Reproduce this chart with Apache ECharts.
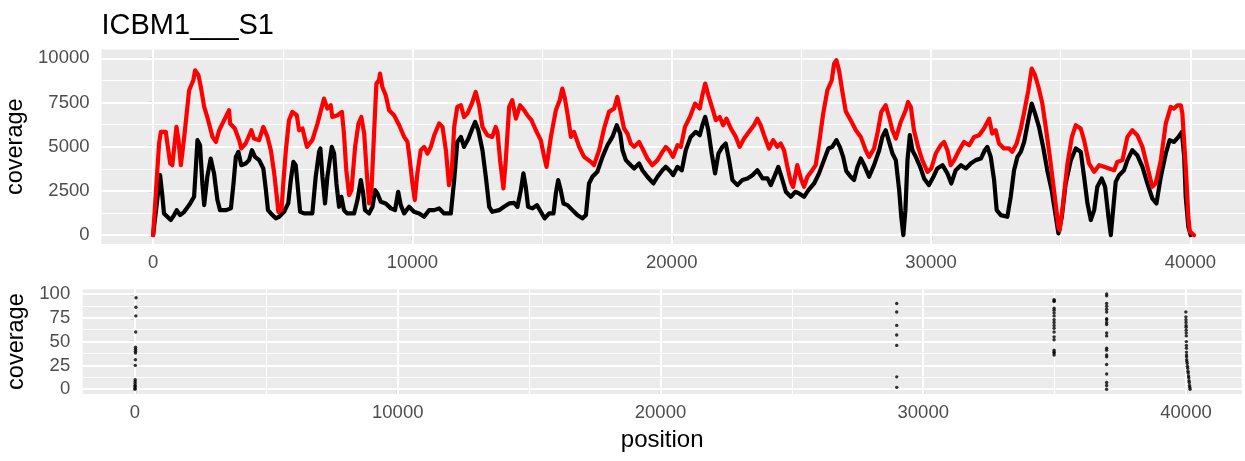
<!DOCTYPE html>
<html>
<head>
<meta charset="utf-8">
<script src="https://cdn.jsdelivr.net/npm/echarts@6/dist/echarts.min.js"></script>
<style>
  html, body { margin: 0; padding: 0; background: #ffffff; }
  #chart { width: 1245px; height: 461px; }
</style>
</head>
<body>
<div id="chart"></div>
<script>
// Sample name shown as the plot title
const sampleName = 'ICBM1___S1';

// Axis breaks
const positionTicks = [0, 10000, 20000, 30000, 40000];
const positionMinor = [5000, 15000, 25000, 35000];
const coverageTicks = [0, 2500, 5000, 7500, 10000];
const coverageMinor = [1250, 3750, 6250, 8750];
const lowTicks = [0, 25, 50, 75, 100];
const lowMinor = [12.5, 37.5, 62.5, 87.5];

// [position, coverage] along the genome, first track (black)
const blackTrack = [
  [0,0],[270,3390],[360,2165],[420,1225],[550,1035],[680,850],[810,1130],[910,1410],[1040,1130],[1200,1317],
  [1390,1695],[1580,2165],[1650,3860],[1710,5370],[1810,5085],[1900,2920],[1970,1695],[2090,3300],[2220,4330],[2350,3490],
  [2480,1980],[2580,1410],[2800,1410],[3000,1510],[3100,2920],[3190,4425],[3290,4710],[3400,3955],[3570,4050],[3700,4240],
  [3810,4800],[3930,4425],[4090,4240],[4250,3770],[4350,2540],[4430,1410],[4600,1130],[4730,945],[4860,1035],[5050,1317],
  [5210,1790],[5310,3110],[5410,4140],[5500,3955],[5590,2540],[5670,1317],[5820,1225],[6020,1225],[6140,1225],[6270,3300],
  [6400,4710],[6450,4900],[6530,3300],[6630,1790],[6720,3300],[6890,4990],[6980,4615],[7070,2920],[7170,1600],[7260,2165],
  [7360,1410],[7490,1225],[7750,1225],[7880,1980],[8010,3110],[8100,2355],[8170,1410],[8330,1225],[8460,1600],[8560,2540],
  [8650,2355],[8780,1885],[8970,1790],[9170,1510],[9330,1410],[9450,2450],[9550,1695],[9680,1225],[9870,1600],[10060,1317],
  [10260,1225],[10450,1035],[10640,1410],[10840,1410],[11030,1510],[11220,1225],[11480,1225],[11610,3110],[11730,5270],[11870,5555],
  [11990,4990],[12160,5460],[12310,6030],[12420,6400],[12540,5930],[12700,4800],[12830,3300],[12960,1600],[13080,1317],[13340,1410],
  [13530,1600],[13730,1790],[13920,1825],[14050,1600],[14180,2540],[14280,3490],[14370,2730],[14460,1600],[14630,1510],[14800,1695],
  [14950,1317],[15100,945],[15270,1225],[15440,1225],[15530,2355],[15620,3110],[15720,2540],[15820,1790],[15980,1695],[16170,1410],
  [16360,1130],[16550,945],[16690,1130],[16810,2920],[16940,3300],[17130,3580],[17330,4425],[17520,5085],[17710,5555],[17880,6215],
  [18010,5745],[18100,4800],[18230,4240],[18420,3955],[18550,3770],[18740,4050],[18870,3670],[19060,3300],[19290,2920],[19450,3300],
  [19640,3670],[19770,3860],[19960,3580],[20050,3390],[20220,3860],[20390,3670],[20540,4800],[20730,5555],[20930,5840],[21080,5650],
  [21180,6215],[21290,6680],[21410,5930],[21540,4615],[21670,3490],[21800,4615],[21950,4990],[22080,5180],[22210,4240],[22340,3110],
  [22530,2825],[22720,3110],[22920,3205],[23110,3390],[23300,3670],[23500,3205],[23690,3205],[23820,2825],[23980,3390],[24110,3860],
  [24270,3110],[24400,2450],[24590,2165],[24760,2450],[24910,2355],[25100,2165],[25270,2540],[25490,2920],[25680,3490],[25870,4240],
  [26040,4900],[26190,4990],[26350,5370],[26480,4990],[26610,4425],[26730,3620],[26900,3300],[27030,3110],[27160,3860],[27290,4330],
  [27420,3955],[27610,3300],[27800,3955],[28000,4800],[28120,5555],[28250,5930],[28380,5270],[28510,4615],[28640,4240],[28770,2540],
  [28850,1035],[28930,0],[29010,1410],[29090,4240],[29180,5650],[29280,4800],[29410,4425],[29580,3860],[29730,3205],[29920,2825],
  [30090,3300],[30240,3770],[30440,3955],[30630,3490],[30780,2920],[30950,3670],[31150,3955],[31340,3770],[31530,4050],[31720,4240],
  [31920,4330],[32070,4800],[32170,4990],[32300,4425],[32430,3110],[32530,1410],[32690,1130],[32940,1035],[33070,2165],[33200,3670],
  [33330,4425],[33460,4710],[33590,5280],[33750,6500],[33880,7440],[34010,6875],[34160,6120],[34320,4990],[34480,3670],[34650,2540],
  [34810,1035],[34910,95],[35040,1035],[35190,2920],[35390,4240],[35580,4900],[35770,4710],[35900,3300],[36030,1790],[36160,850],
  [36290,1410],[36410,2730],[36580,3205],[36710,2730],[36840,1035],[36930,0],[37030,1600],[37120,3010],[37250,3390],[37440,3670],
  [37570,4240],[37760,4800],[37950,4520],[38150,3860],[38340,2920],[38530,2070],[38690,1790],[38860,3300],[39050,4615],[39200,5370],
  [39370,5270],[39540,5555],[39670,5840],[39760,4425],[39820,2165],[39920,470],[40010,0]
];

// [position, coverage] along the genome, second track (red)
const redTrack = [
  [0,0],[230,5180],[300,5840],[490,5840],[550,5180],[660,4050],[740,3955],[900,6120],[980,5370],[1070,3955],
  [1200,5555],[1390,8190],[1550,8760],[1620,9320],[1750,9040],[1840,8380],[1970,7250],[2090,6680],[2290,5555],[2420,5270],
  [2550,5930],[2740,6500],[2930,7060],[2970,6310],[3150,6030],[3320,5370],[3400,4900],[3570,5180],[3790,5930],[3890,5460],
  [4090,5370],[4250,6120],[4410,5555],[4540,4800],[4670,3490],[4770,2165],[4830,1317],[4950,1410],[5020,2920],[5120,4800],
  [5240,6500],[5370,6970],[5540,6780],[5630,5930],[5760,6030],[5930,4990],[6140,5370],[6340,6310],[6590,7720],[6720,7160],
  [6850,7345],[6910,6680],[7110,6780],[7280,6970],[7360,5745],[7450,3670],[7560,2260],[7650,2540],[7790,4990],[7920,6310],
  [8030,6680],[8140,5745],[8240,3490],[8330,1790],[8420,2540],[8520,5745],[8610,8570],[8710,8760],[8750,9140],[8840,8380],
  [8970,7910],[9100,7060],[9290,6780],[9490,6215],[9680,5555],[9810,5270],[9900,4240],[10000,2920],[10090,1980],[10190,3490],
  [10320,4800],[10450,4990],[10580,4615],[10710,4990],[10840,5650],[11030,6310],[11160,6120],[11290,4800],[11410,2825],[11520,3670],
  [11610,6120],[11730,7250],[11870,7345],[11990,6680],[12120,6875],[12290,7440],[12440,8100],[12570,7345],[12700,6120],[12890,5650],
  [13080,5555],[13210,6120],[13280,5840],[13380,4240],[13510,2640],[13600,4240],[13730,7250],[13850,7630],[13990,6590],[14150,7345],
  [14310,7060],[14430,6780],[14590,6500],[14760,5930],[14950,5370],[15080,4425],[15170,3860],[15340,5555],[15530,7060],[15680,7630],
  [15780,8290],[15880,7720],[16000,6680],[16110,5555],[16230,5840],[16430,4990],[16620,4425],[16880,4140],[17000,3955],[17200,4800],
  [17390,6030],[17580,6970],[17780,7160],[17900,7815],[18030,6970],[18160,6030],[18290,5745],[18420,5180],[18550,4990],[18740,5270],
  [18870,4900],[19060,4330],[19250,3955],[19450,4240],[19640,4710],[19770,4990],[19900,4800],[20050,4425],[20220,5085],[20350,4990],
  [20510,6120],[20700,6680],[20900,7440],[21080,7160],[21180,7910],[21290,8570],[21410,7910],[21570,7160],[21700,6500],[21850,6680],
  [21980,6215],[22110,6590],[22280,6030],[22470,5555],[22620,4990],[22790,5460],[22980,5840],[23170,6215],[23300,6590],[23430,6215],
  [23560,5650],[23750,4900],[23910,5370],[24070,4990],[24200,5180],[24330,4800],[24460,3860],[24590,3010],[24680,2730],[24840,3955],
  [24980,3205],[25100,2730],[25230,3300],[25420,3670],[25550,3955],[25680,5180],[25840,6875],[26000,8190],[26170,8760],[26260,9700],
  [26350,9890],[26450,9320],[26580,8100],[26710,7000],[26900,6500],[27100,5930],[27290,5555],[27480,4800],[27610,4425],[27800,4900],
  [27930,5745],[28080,6970],[28250,7345],[28380,6680],[28510,5930],[28640,5460],[28830,6400],[29020,7060],[29110,7530],[29220,7250],
  [29340,5930],[29500,4990],[29660,4240],[29860,3580],[30010,3770],[30180,4615],[30370,5085],[30500,5270],[30630,4800],[30760,3955],
  [30890,4240],[31080,4800],[31270,5270],[31470,5085],[31660,5555],[31850,5650],[32040,6030],[32240,6590],[32360,5745],[32490,5930],
  [32620,5180],[32810,4900],[33010,4900],[33130,4710],[33300,5180],[33460,6030],[33590,6960],[33750,8190],[33880,9420],[34010,9040],
  [34140,8380],[34290,7440],[34420,6120],[34580,4425],[34740,2540],[34910,470],[34960,280],[35060,1410],[35260,4050],[35430,5555],
  [35580,6215],[35770,6030],[35900,5370],[36090,4050],[36290,3580],[36480,3955],[36670,3860],[36860,3770],[37060,3670],[37180,4140],
  [37380,4240],[37570,5555],[37760,5930],[37950,5650],[38150,4990],[38340,3860],[38530,2730],[38660,2920],[38860,4240],[39050,6310],
  [39240,7250],[39370,7160],[39500,7345],[39630,7345],[39690,6875],[39820,3860],[39920,1035],[39980,190],[40140,0]
];

// [position, coverage] for positions with coverage below 100
const lowCoverage = [
  [1,0],[2,1],[3,3],[4,4],[5,6],[6,8],[8,10],[12,25],[15,31],[18,38],[19,40],[20,42],[21,44],[26,60],[32,77],[36,86],[40,96],
  [28990,2],[28990,13],[28990,46],[28990,57],[28990,67],[28990,81],[28990,90],
  [34980,36],[34980,38],[34980,39],[34980,41],[34980,52],[34980,55],[34980,60],[34980,64],[34980,67],
  [34980,70],[34980,73],[34980,77],[34980,80],[34980,83],[34980,85],[34980,92],[34980,93],[34980,94],
  [36980,0],[36980,4],[36980,7],[36980,16],[36980,26],[36980,34],[36980,36],[36980,41],[36980,43],[36980,56],
  [36980,59],[36980,68],[36980,70],[36980,73],[36980,74],[36980,81],[36980,84],[36980,87],[36980,90],[36980,98],[36980,100],
  [39995,81],[39997,76],[39999,73],[40001,70],[40003,67],[40005,65],[40007,62],[40009,59],[40011,56],[40013,50],
  [40015,46],[40017,43],[40019,39],[40021,36],[40023,34],[40025,31],[40035,29],[40045,27],[40055,24],[40065,22],
  [40075,19],[40085,17],[40095,14],[40105,12],[40115,9],[40125,7],[40135,4],[40145,2],[40155,0]
];

const FONT = 'Liberation Sans';
const TICK_GREY = '#4D4D4D';
const TICK_DARK = '#333333';
const PANEL = '#EBEBEB';

// white major/minor grid lines for one panel
function panelGrid(xMajor, xMinorVals, yMajor, yMinorVals) {
  const major = { color: '#ffffff', width: 2, type: 'solid' };
  const minor = { color: '#ffffff', width: 1, type: 'solid' };
  return [].concat(
    yMinorVals.map(v => ({ yAxis: v, lineStyle: minor })),
    xMinorVals.map(v => ({ xAxis: v, lineStyle: minor })),
    yMajor.map(v => ({ yAxis: v, lineStyle: major })),
    xMajor.map(v => ({ xAxis: v, lineStyle: major }))
  );
}

function gridMarkLine(data) {
  return {
    silent: true,
    z: 1,
    animation: false,
    symbol: ['none', 'none'],
    label: { show: false },
    emphasis: { disabled: true },
    lineStyle: { color: '#ffffff', type: 'solid' },
    data: data
  };
}

const plain = v => String(v);

function valueAxis(grid, min, max, ticks, labelMargin, extra) {
  return Object.assign({
    type: 'value',
    gridIndex: grid,
    min: min,
    max: max,
    splitLine: { show: false },
    minorSplitLine: { show: false },
    axisLine: { show: false },
    axisTick: {
      show: true,
      customValues: ticks,
      length: 4.5,
      lineStyle: { color: TICK_DARK, width: 1.2 }
    },
    axisLabel: {
      customValues: ticks,
      formatter: plain,
      color: TICK_GREY,
      fontFamily: FONT,
      fontSize: 18.5,
      margin: labelMargin
    }
  }, extra || {});
}

const chart = echarts.init(document.getElementById('chart'), null, { renderer: 'canvas' });

// panels are placed exactly; labels must not push them around
const panelBase = { show: true, backgroundColor: PANEL, borderWidth: 0, containLabel: false, outerBoundsMode: 'none' };

chart.setOption({
  animation: false,
  backgroundColor: '#ffffff',
  title: {
    text: sampleName,
    left: 101.5,
    top: 11,
    padding: 0,
    textStyle: { fontFamily: FONT, fontSize: 29, fontWeight: 'normal', color: '#000000' }
  },
  grid: [
    Object.assign({ left: 101.5, top: 49.5, width: 1143.5, height: 194.4 }, panelBase),
    Object.assign({ left: 82.7, top: 289.2, width: 1159, height: 104.8 }, panelBase)
  ],
  xAxis: [
    valueAxis(0, -1990, 42105, positionTicks, 9.5),
    valueAxis(1, -1990, 42120, positionTicks, 9.5, {
      name: 'position',
      nameLocation: 'middle',
      nameGap: 34,
      nameTextStyle: { fontFamily: FONT, fontSize: 24, color: '#000000' }
    })
  ],
  yAxis: [
    valueAxis(0, -500, 10500, coverageTicks, 12, {
      name: 'coverage',
      nameLocation: 'middle',
      nameRotate: 90,
      nameGap: 73,
      nameTextStyle: { fontFamily: FONT, fontSize: 23.5, color: '#000000' }
    }),
    valueAxis(1, -5, 105, lowTicks, 12.5, {
      name: 'coverage',
      nameLocation: 'middle',
      nameRotate: 90,
      nameGap: 49,
      nameTextStyle: { fontFamily: FONT, fontSize: 23.5, color: '#000000' }
    })
  ],
  series: [
    {
      name: 'track1',
      type: 'line',
      xAxisIndex: 0,
      yAxisIndex: 0,
      z: 3,
      data: blackTrack,
      showSymbol: false,
      symbol: 'none',
      silent: true,
      lineStyle: { color: '#000000', width: 4.2, join: 'round', cap: 'round' },
      markLine: gridMarkLine(panelGrid(positionTicks, positionMinor, coverageTicks, coverageMinor))
    },
    {
      name: 'track2',
      type: 'line',
      xAxisIndex: 0,
      yAxisIndex: 0,
      z: 4,
      data: redTrack,
      showSymbol: false,
      symbol: 'none',
      silent: true,
      lineStyle: { color: '#FF0000', width: 4.2, join: 'round', cap: 'round' }
    },
    {
      name: 'low',
      type: 'scatter',
      xAxisIndex: 1,
      yAxisIndex: 1,
      z: 3,
      data: lowCoverage,
      symbol: 'circle',
      symbolSize: 3.4,
      silent: true,
      itemStyle: { color: '#000000' },
      markLine: gridMarkLine(panelGrid(positionTicks, positionMinor, lowTicks, lowMinor))
    }
  ]
});
</script>
</body>
</html>
